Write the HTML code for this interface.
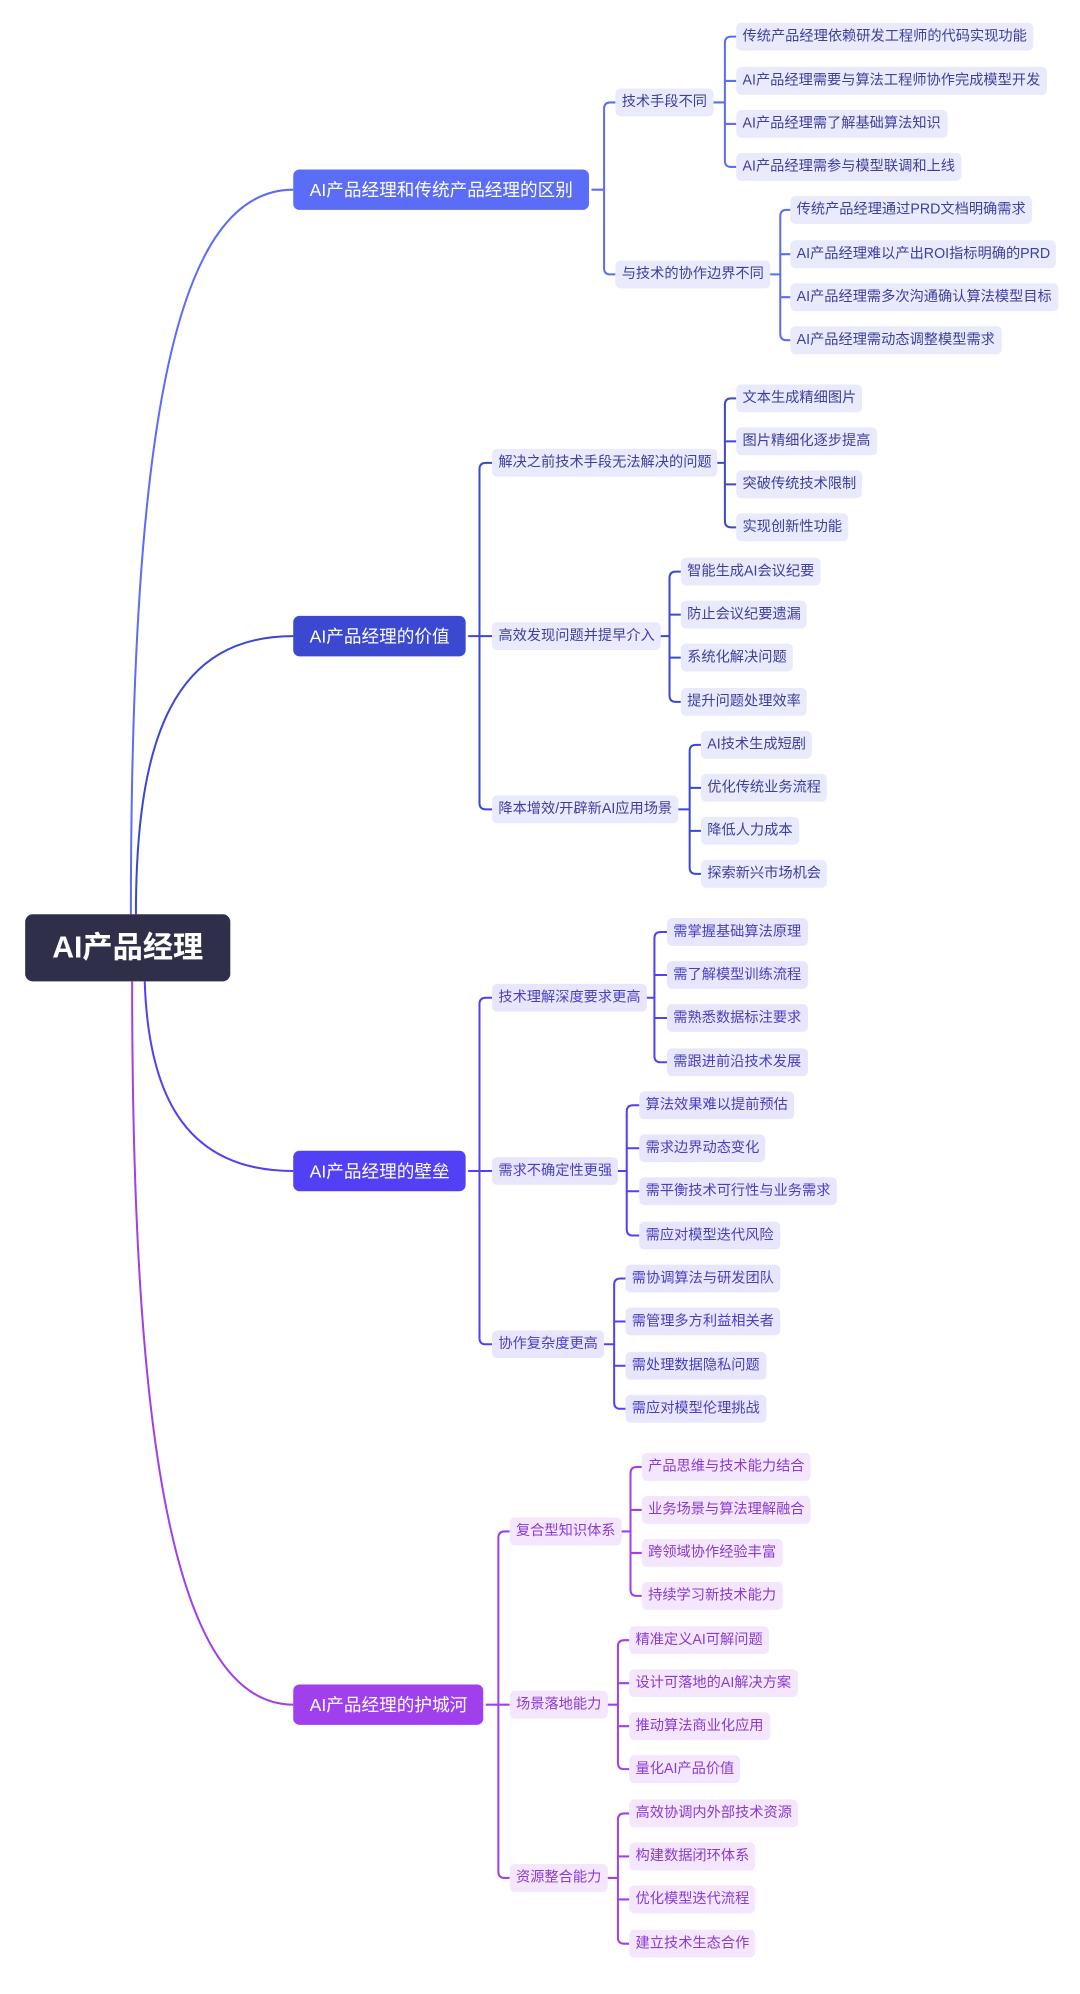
<!DOCTYPE html>
<html><head><meta charset="utf-8">
<style>
html,body{margin:0;padding:0;background:#fff;}
body{width:1080px;height:1980px;overflow:hidden;position:relative;}
#w{position:absolute;left:0;top:0;width:860px;height:1566px;transform:scale(1.2585,1.2646);transform-origin:0 0;font-family:"Liberation Sans","Noto Sans CJK SC",sans-serif;}
.n{position:absolute;height:22px;line-height:22px;padding:0 5px;border-radius:4px;font-size:11.3px;white-space:nowrap;background:#e9eafb;color:#3f3f9f;}
.p{background:#f3e6fd;color:#8a3bd1;}
.c{background:#e8e6fc;color:#4a3fc0;}
.l1{position:absolute;height:32px;line-height:32px;padding:0 13px;border-radius:5px;font-size:14px;color:#fff;white-space:nowrap;}
svg{position:absolute;left:0;top:0;}
</style></head><body><div id="w">
<svg width="860" height="1577" fill="none" stroke-width="1.6">
<g stroke="#5b6cf7">
<path d="M104,723 C104,330 140,150 233,150"/>
<path d="M470,150 H480 M489,81 H485 Q480,81 480,86 V212 Q480,217 485,217 H489"/>
<path d="M563,81 H576 M585,29 H581 Q576,29 576,34 V127 Q576,132 581,132 H585 M576,64 H585 M576,98 H585"/>
<path d="M608,217 H620 M628,166 H625 Q620,166 620,171 V264 Q620,269 625,269 H628 M620,201 H628 M620,235 H628"/>
</g>
<g stroke="#3b48d0">
<path d="M108,723 C108,580 140,503 233,503"/>
<path d="M372,503 H381 M391,366 H386 Q381,366 381,371 V635 Q381,640 386,640 H391 M381,503 H391"/>
<path d="M565,366 H576 M585,315 H581 Q576,315 576,320 V412 Q576,417 581,417 H585 M576,349 H585 M576,383 H585"/>
<path d="M521,503 H532 M541,452 H537 Q532,452 532,457 V550 Q532,555 537,555 H541 M532,486 H541 M532,520 H541"/>
<path d="M537,640 H548 M557,589 H553 Q548,589 548,594 V686 Q548,691 553,691 H557 M548,623 H557 M548,657 H557"/>
</g>
<g stroke="#5240f6">
<path d="M115,776 C118,870 150,926 233,926"/>
<path d="M372,926 H381 M391,789 H386 Q381,789 381,794 V1058 Q381,1063 386,1063 H391 M381,926 H391"/>
<path d="M509,789 H520 M530,737 H525 Q520,737 520,742 V835 Q520,840 525,840 H530 M520,771 H530 M520,805 H530"/>
<path d="M487,926 H498 M508,874 H503 Q498,874 498,879 V972 Q498,977 503,977 H508 M498,908 H508 M498,942 H508"/>
<path d="M477,1063 H488 M497,1011 H493 Q488,1011 488,1016 V1109 Q488,1114 493,1114 H497 M488,1045 H497 M488,1080 H497"/>
</g>
<g stroke="#a040ec">
<path d="M105,776 C105,1100 130,1348 233,1348"/>
<path d="M386,1348 H396 M405,1211 H401 Q396,1211 396,1216 V1480 Q396,1485 401,1485 H405 M396,1348 H405"/>
<path d="M491,1211 H501 M510,1160 H506 Q501,1160 501,1165 V1257 Q501,1262 506,1262 H510 M501,1194 H510 M501,1228 H510"/>
<path d="M480,1348 H491 M500,1297 H496 Q491,1297 491,1302 V1394 Q491,1399 496,1399 H500 M491,1331 H500 M491,1365 H500"/>
<path d="M480,1485 H491 M500,1434 H496 Q491,1434 491,1439 V1532 Q491,1537 496,1537 H500 M491,1468 H500 M491,1502 H500"/>
</g>
</svg>
<div style="position:absolute;left:20px;top:723px;width:163px;height:53px;line-height:53px;background:#2f2f4a;border-radius:6px;color:#fff;font-size:24px;font-weight:bold;text-align:center;">AI产品经理</div>
<div class="l1" style="left:233px;top:134px;background:#5b6cf7;">AI产品经理和传统产品经理的区别</div>
<div class="l1" style="left:233px;top:487px;background:#3b48d0;">AI产品经理的价值</div>
<div class="l1" style="left:233px;top:910px;background:#5240f6;">AI产品经理的壁垒</div>
<div class="l1" style="left:233px;top:1332px;background:#a040ec;">AI产品经理的护城河</div>

<div class="n" style="left:489px;top:70px">技术手段不同</div>
<div class="n" style="left:489px;top:206px">与技术的协作边界不同</div>
<div class="n" style="left:585px;top:18px">传统产品经理依赖研发工程师的代码实现功能</div>
<div class="n" style="left:585px;top:53px">AI产品经理需要与算法工程师协作完成模型开发</div>
<div class="n" style="left:585px;top:87px">AI产品经理需了解基础算法知识</div>
<div class="n" style="left:585px;top:121px">AI产品经理需参与模型联调和上线</div>
<div class="n" style="left:628px;top:155px">传统产品经理通过PRD文档明确需求</div>
<div class="n" style="left:628px;top:190px">AI产品经理难以产出ROI指标明确的PRD</div>
<div class="n" style="left:628px;top:224px">AI产品经理需多次沟通确认算法模型目标</div>
<div class="n" style="left:628px;top:258px">AI产品经理需动态调整模型需求</div>

<div class="n" style="left:391px;top:355px">解决之前技术手段无法解决的问题</div>
<div class="n" style="left:391px;top:492px">高效发现问题并提早介入</div>
<div class="n" style="left:391px;top:629px">降本增效/开辟新AI应用场景</div>
<div class="n" style="left:585px;top:304px">文本生成精细图片</div>
<div class="n" style="left:585px;top:338px">图片精细化逐步提高</div>
<div class="n" style="left:585px;top:372px">突破传统技术限制</div>
<div class="n" style="left:585px;top:406px">实现创新性功能</div>
<div class="n" style="left:541px;top:441px">智能生成AI会议纪要</div>
<div class="n" style="left:541px;top:475px">防止会议纪要遗漏</div>
<div class="n" style="left:541px;top:509px">系统化解决问题</div>
<div class="n" style="left:541px;top:544px">提升问题处理效率</div>
<div class="n" style="left:557px;top:578px">AI技术生成短剧</div>
<div class="n" style="left:557px;top:612px">优化传统业务流程</div>
<div class="n" style="left:557px;top:646px">降低人力成本</div>
<div class="n" style="left:557px;top:680px">探索新兴市场机会</div>

<div class="n c" style="left:391px;top:778px">技术理解深度要求更高</div>
<div class="n c" style="left:391px;top:915px">需求不确定性更强</div>
<div class="n c" style="left:391px;top:1052px">协作复杂度更高</div>
<div class="n c" style="left:530px;top:726px">需掌握基础算法原理</div>
<div class="n c" style="left:530px;top:760px">需了解模型训练流程</div>
<div class="n c" style="left:530px;top:794px">需熟悉数据标注要求</div>
<div class="n c" style="left:530px;top:829px">需跟进前沿技术发展</div>
<div class="n c" style="left:508px;top:863px">算法效果难以提前预估</div>
<div class="n c" style="left:508px;top:897px">需求边界动态变化</div>
<div class="n c" style="left:508px;top:931px">需平衡技术可行性与业务需求</div>
<div class="n c" style="left:508px;top:966px">需应对模型迭代风险</div>
<div class="n c" style="left:497px;top:1000px">需协调算法与研发团队</div>
<div class="n c" style="left:497px;top:1034px">需管理多方利益相关者</div>
<div class="n c" style="left:497px;top:1069px">需处理数据隐私问题</div>
<div class="n c" style="left:497px;top:1103px">需应对模型伦理挑战</div>

<div class="n p" style="left:405px;top:1200px">复合型知识体系</div>
<div class="n p" style="left:405px;top:1337px">场景落地能力</div>
<div class="n p" style="left:405px;top:1474px">资源整合能力</div>
<div class="n p" style="left:510px;top:1149px">产品思维与技术能力结合</div>
<div class="n p" style="left:510px;top:1183px">业务场景与算法理解融合</div>
<div class="n p" style="left:510px;top:1217px">跨领域协作经验丰富</div>
<div class="n p" style="left:510px;top:1251px">持续学习新技术能力</div>
<div class="n p" style="left:500px;top:1286px">精准定义AI可解问题</div>
<div class="n p" style="left:500px;top:1320px">设计可落地的AI解决方案</div>
<div class="n p" style="left:500px;top:1354px">推动算法商业化应用</div>
<div class="n p" style="left:500px;top:1388px">量化AI产品价值</div>
<div class="n p" style="left:500px;top:1423px">高效协调内外部技术资源</div>
<div class="n p" style="left:500px;top:1457px">构建数据闭环体系</div>
<div class="n p" style="left:500px;top:1491px">优化模型迭代流程</div>
<div class="n p" style="left:500px;top:1526px">建立技术生态合作</div>
</div></body></html>
